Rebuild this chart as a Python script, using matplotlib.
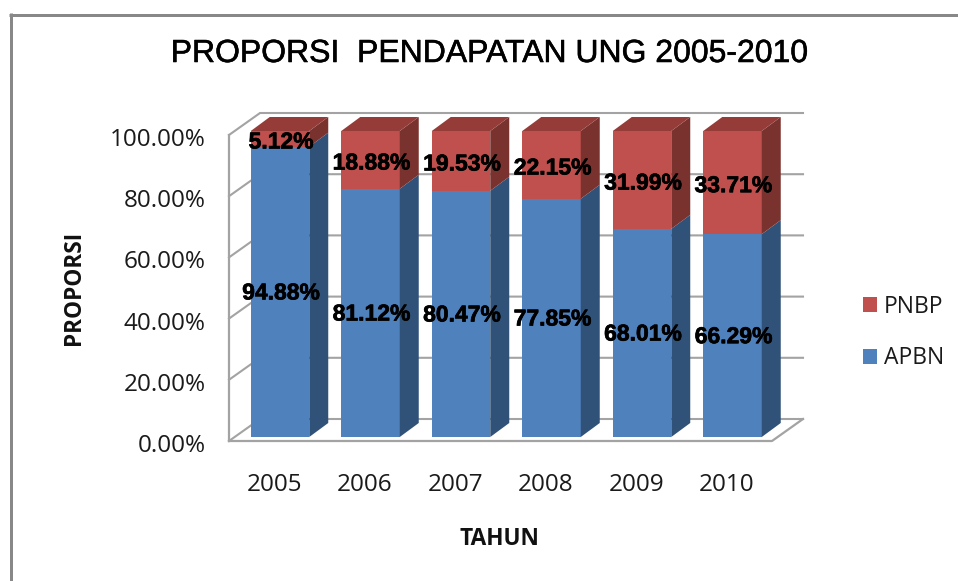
import matplotlib
matplotlib.use("Agg")
import matplotlib.pyplot as plt
from matplotlib.lines import Line2D
from matplotlib.patches import Polygon, Patch
from matplotlib.transforms import ScaledTranslation
import matplotlib.patheffects as pe
import numpy as np

years = ["2005", "2006", "2007", "2008", "2009", "2010"]
apbn = [94.88, 81.12, 80.47, 77.85, 68.01, 66.29]
pnbp = [5.12, 18.88, 19.53, 22.15, 31.99, 33.71]
yticks = [0, 20, 40, 60, 80, 100]
ylabels = ["0.00%", "20.00%", "40.00%", "60.00%", "80.00%", "100.00%"]

W, H = 958, 581
BLUE, BLUE_S = "#4F81BD", "#315278"
RED, RED_S, RED_T = "#C0504D", "#7A322F", "#953C39"
GRID = "#A3A3A3"
FRAME = "#888888"
CAL = "Open Sans"

fig = plt.figure(figsize=(W / 100, H / 100), dpi=100, facecolor="white")
ax = fig.add_axes([229 / W, 1 - 441 / H, (772 - 229) / W, (441 - 135) / H])
ax.set_xlim(-0.5, 5.5)
ax.set_ylim(0, 100)
ax.set_facecolor("none")
for s in ax.spines.values():
    s.set_visible(False)

# pixel -> data conversion of the pseudo-3D depth
px = 1 / 90.5
py = 100 / 306
wall_dx, wall_dy = 31 * px, 22 * py
bar_x0, bar_y0 = 5.75 * px, 4 * py
side_dx, side_dy = 19 * px, 14 * py
bw = 58.5 * px

# walls and gridlines
L, R = -0.5, 5.5
for v in yticks:
    ax.plot([L, L + wall_dx, R + wall_dx], [v, v + wall_dy, v + wall_dy],
            color=GRID, lw=1.5, clip_on=False, zorder=1, solid_joinstyle="miter")
ax.plot([L, L], [0, 100], color=GRID, lw=1.6, clip_on=False, zorder=1.5)
ax.plot([L, R, R + wall_dx], [0, 0, wall_dy], color=GRID, lw=1.6, clip_on=False, zorder=1.5)

# bars
x = np.arange(len(years)) + bar_x0
b1 = ax.bar(x, apbn, bw, bottom=bar_y0, color=BLUE, zorder=5, clip_on=False)
b2 = ax.bar(x, pnbp, bw, bottom=np.array(apbn) + bar_y0, color=RED, zorder=5, clip_on=False)

for xi, a, p in zip(x, apbn, pnbp):
    xr = xi + bw / 2
    xl = xi - bw / 2
    y1 = a + bar_y0
    y2 = a + p + bar_y0
    ax.add_patch(Polygon([(xr, bar_y0), (xr + side_dx, bar_y0 + side_dy),
                          (xr + side_dx, y1 + side_dy), (xr, y1)],
                         closed=True, fc=BLUE_S, ec="none", zorder=5, clip_on=False))
    ax.add_patch(Polygon([(xr, y1), (xr + side_dx, y1 + side_dy),
                          (xr + side_dx, y2 + side_dy), (xr, y2)],
                         closed=True, fc=RED_S, ec="none", zorder=5, clip_on=False))
    ax.add_patch(Polygon([(xl, y2), (xr, y2), (xr + side_dx, y2 + side_dy),
                          (xl + side_dx, y2 + side_dy)],
                         closed=True, fc=RED_T, ec="none", zorder=5, clip_on=False))

lab = dict(label_type="center", fmt="%.2f%%", fontsize=16.5, fontweight="bold",
           family="Liberation Sans", color="black", zorder=20)
for cont in (b1, b2):
    for t in ax.bar_label(cont, **lab):
        t.xyann = (0.7, -0.8)
        t.set_path_effects([pe.withStroke(linewidth=0.5, foreground="black")])

ax.set_xticks(range(len(years)), years)
ax.set_yticks(yticks, ylabels)
ax.tick_params(axis="both", length=0, labelsize=17.5, labelcolor="#1a1a1a")
ax.tick_params(axis="x", pad=23)
ax.tick_params(axis="y", pad=17)
fig.canvas.draw()
down = ScaledTranslation(0, -2 / 100, fig.dpi_scale_trans)
for t in ax.get_xticklabels():
    t.set_family(CAL)
for t in ax.get_yticklabels():
    t.set_family(CAL)
    t.set_transform(t.get_transform() + down)

# axis titles
ax.set_ylabel("PROPORSI", fontsize=16.3, fontweight="bold", family=CAL, color="#111111")
ax.yaxis.set_label_coords(74 / W, 1 - 288 / H, transform=fig.transFigure)
ax.set_xlabel("TAHUN", fontsize=16.3, fontweight="bold", family=CAL, color="#111111")
ax.xaxis.set_label_coords(499 / W, 1 - 539 / H, transform=fig.transFigure)
ax.xaxis.label.set_va("center")
ax.yaxis.label.set_va("center")

ttl = fig.suptitle("PROPORSI  PENDAPATAN UNG 2005-2010", x=490 / W, y=1 - 54 / H, va="center",
                   fontsize=23, family="Liberation Sans", color="black")
ttl.set_path_effects([pe.withStroke(linewidth=0.4, foreground="black")])

handles = [Patch(fc=RED, ec="none", label="PNBP"), Patch(fc=BLUE, ec="none", label="APBN")]
leg = fig.legend(handles=handles, loc="center left", bbox_to_anchor=(863 / W, 1 - 332.5 / H),
                 frameon=False, borderaxespad=0, borderpad=0, handlelength=0.61, handleheight=0.61,
                 handletextpad=0.3, labelspacing=1.22,
                 prop={"family": CAL, "size": 16.5})
for t in leg.get_texts():
    t.set_color("#1a1a1a")

# outer frame
lw = 3 * 72 / 100
fig.add_artist(Line2D([10.5 / W, 10.5 / W], [0, 1 - 13 / H], color=FRAME, lw=lw,
                      solid_capstyle="butt", transform=fig.transFigure))
fig.add_artist(Line2D([9 / W, 1], [1 - 14.5 / H, 1 - 14.5 / H], color=FRAME, lw=lw,
                      solid_capstyle="butt", transform=fig.transFigure))

fig.savefig("out.png", dpi=100)
